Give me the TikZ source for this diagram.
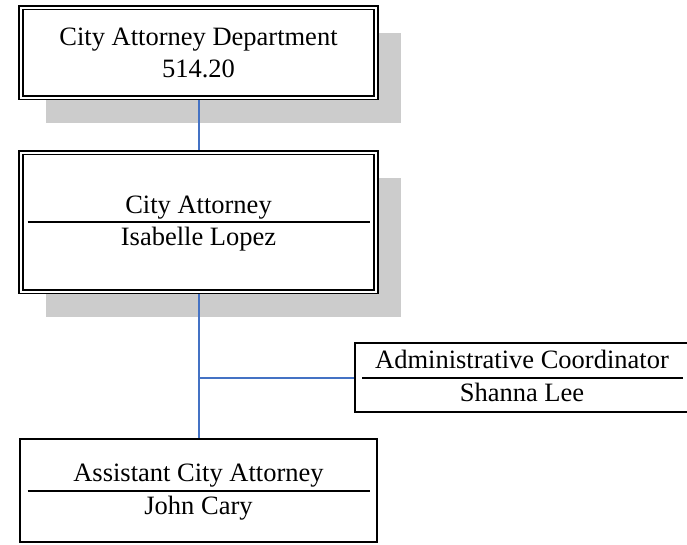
\documentclass[tikz,border=0pt]{standalone}
\usepackage{fontspec}
\setmainfont{Liberation Serif}
\usetikzlibrary{shadows}
\definecolor{connblue}{HTML}{4472C4}
\newcommand\boxfont{\fontsize{26.5}{32}\selectfont}
\begin{document}
\begin{tikzpicture}[x=1pt,y=-1pt,
  dbox/.style={draw, fill=white, double, line width=1.6pt, double distance=2pt, outer sep=2.6pt,
    drop shadow={shadow xshift=25pt, shadow yshift=-25pt, fill=black!20, opacity=1}},
  sbox/.style={draw, fill=white, line width=2pt},
  conn/.style={color=connblue, line width=2pt},
  sep/.style={line width=2pt}]

\useasboundingbox (0,0) rectangle (687,544);

\begin{scope}[every node/.style={shape=rectangle, inner sep=0pt, font=\boxfont}]
    \path (198.5,52.5) node[dbox, minimum width=355, minimum height=90, align=center] (dept)
        {City Attorney Department\\514.20};
    \path (dept) +(0,169.5) node[dbox, minimum width=355, minimum height=139] (ca) {};
    \path (ca) +(0,268.5) node[sbox, minimum width=357.5, minimum height=103.5] (acta) {};
    \path (ca) +(323.5,155.5) node[sbox, minimum width=334.5, minimum height=69.5] (admin) {};

    \path (ca.center) +(0,-9) node[anchor=base] (catitle) {City Attorney};
    \path (ca.center) +(0,23.5) node[anchor=base] (caname) {Isabelle Lopez};
    \path (admin.center) +(0,-9) node[anchor=base] (admtitle) {Administrative Coordinator};
    \path (admin.center) +(0,24) node[anchor=base] (admname) {Shanna Lee};
    \path (acta.center) +(0,-9) node[anchor=base] (actatitle) {Assistant City Attorney};
    \path (acta.center) +(0,23.5) node[anchor=base] (actaname) {John Cary};
\end{scope}

% lines between title and name
\draw[sep] ([xshift=-171pt]ca.center) -- ([xshift=171pt]ca.center);
\draw[sep] ([xshift=-171pt]acta.center) -- ([xshift=171pt]acta.center);
\draw[sep] ([xshift=-160pt]admin.center) -- ([xshift=161pt]admin.center);

\draw[conn] (dept) -- (ca);
\draw[conn] (ca) -- (acta);
\draw[conn] (ca.south |- admin.west) -- (admin);

\end{tikzpicture}
\end{document}
